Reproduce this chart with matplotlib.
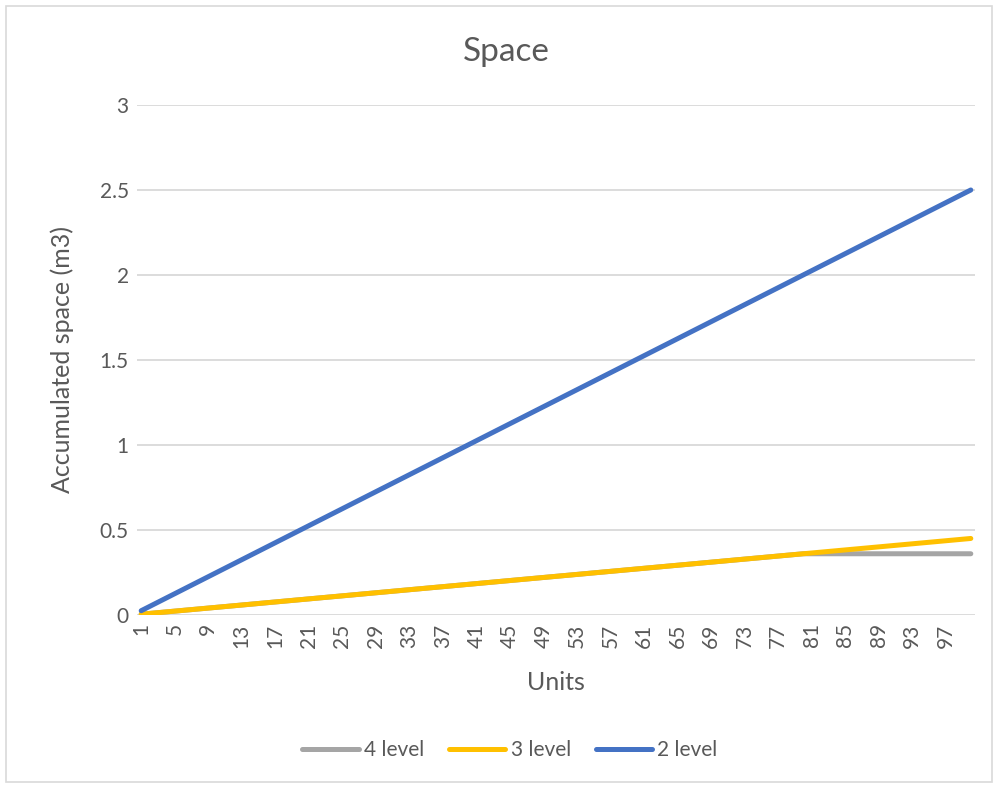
# plot.py
# accumulated space per unit for 2, 3 and 4 level storage
import matplotlib
matplotlib.use('Agg')
import matplotlib.pyplot as plt
from matplotlib.patches import Rectangle

# data
units = list(range(1, 101))

level2 = [0.025, 0.05, 0.075, 0.1, 0.125, 0.15, 0.175, 0.2, 0.225, 0.25,
          0.275, 0.3, 0.325, 0.35, 0.375, 0.4, 0.425, 0.45, 0.475, 0.5,
          0.525, 0.55, 0.575, 0.6, 0.625, 0.65, 0.675, 0.7, 0.725, 0.75,
          0.775, 0.8, 0.825, 0.85, 0.875, 0.9, 0.925, 0.95, 0.975, 1.0,
          1.025, 1.05, 1.075, 1.1, 1.125, 1.15, 1.175, 1.2, 1.225, 1.25,
          1.275, 1.3, 1.325, 1.35, 1.375, 1.4, 1.425, 1.45, 1.475, 1.5,
          1.525, 1.55, 1.575, 1.6, 1.625, 1.65, 1.675, 1.7, 1.725, 1.75,
          1.775, 1.8, 1.825, 1.85, 1.875, 1.9, 1.925, 1.95, 1.975, 2.0,
          2.025, 2.05, 2.075, 2.1, 2.125, 2.15, 2.175, 2.2, 2.225, 2.25,
          2.275, 2.3, 2.325, 2.35, 2.375, 2.4, 2.425, 2.45, 2.475, 2.5]

level3 = [0.0045, 0.009, 0.0135, 0.018, 0.0225, 0.027, 0.0315, 0.036, 0.0405, 0.045,
          0.0495, 0.054, 0.0585, 0.063, 0.0675, 0.072, 0.0765, 0.081, 0.0855, 0.09,
          0.0945, 0.099, 0.1035, 0.108, 0.1125, 0.117, 0.1215, 0.126, 0.1305, 0.135,
          0.1395, 0.144, 0.1485, 0.153, 0.1575, 0.162, 0.1665, 0.171, 0.1755, 0.18,
          0.1845, 0.189, 0.1935, 0.198, 0.2025, 0.207, 0.2115, 0.216, 0.2205, 0.225,
          0.2295, 0.234, 0.2385, 0.243, 0.2475, 0.252, 0.2565, 0.261, 0.2655, 0.27,
          0.2745, 0.279, 0.2835, 0.288, 0.2925, 0.297, 0.3015, 0.306, 0.3105, 0.315,
          0.3195, 0.324, 0.3285, 0.333, 0.3375, 0.342, 0.3465, 0.351, 0.3555, 0.36,
          0.3645, 0.369, 0.3735, 0.378, 0.3825, 0.387, 0.3915, 0.396, 0.4005, 0.405,
          0.4095, 0.414, 0.4185, 0.423, 0.4275, 0.432, 0.4365, 0.441, 0.4455, 0.45]

level4 = [0.0045, 0.009, 0.0135, 0.018, 0.0225, 0.027, 0.0315, 0.036, 0.0405, 0.045,
          0.0495, 0.054, 0.0585, 0.063, 0.0675, 0.072, 0.0765, 0.081, 0.0855, 0.09,
          0.0945, 0.099, 0.1035, 0.108, 0.1125, 0.117, 0.1215, 0.126, 0.1305, 0.135,
          0.1395, 0.144, 0.1485, 0.153, 0.1575, 0.162, 0.1665, 0.171, 0.1755, 0.18,
          0.1845, 0.189, 0.1935, 0.198, 0.2025, 0.207, 0.2115, 0.216, 0.2205, 0.225,
          0.2295, 0.234, 0.2385, 0.243, 0.2475, 0.252, 0.2565, 0.261, 0.2655, 0.27,
          0.2745, 0.279, 0.2835, 0.288, 0.2925, 0.297, 0.3015, 0.306, 0.3105, 0.315,
          0.3195, 0.324, 0.3285, 0.333, 0.3375, 0.342, 0.3465, 0.351, 0.3555, 0.36,
          0.36, 0.36, 0.36, 0.36, 0.36, 0.36, 0.36, 0.36, 0.36, 0.36,
          0.36, 0.36, 0.36, 0.36, 0.36, 0.36, 0.36, 0.36, 0.36, 0.36]

series = [('4 level', level4, '#A5A5A5'),
          ('3 level', level3, '#FFC000'),
          ('2 level', level2, '#4472C4')]

yticks = [0, 0.5, 1, 1.5, 2, 2.5, 3]
ytlabels = ['0', '0.5', '1', '1.5', '2', '2.5', '3']
xticks = units[::4]

# -----
txtcol = '#595959'
gridcol = '#D9D9D9'
plt.rcParams['font.family'] = ['Lato', 'DejaVu Sans']

fig = plt.figure(figsize=(10, 7.87), dpi=100)
ax = fig.add_axes([0.137, 0.2186, 0.838, 0.648])

for name, vals, col in series:
    ax.plot(units, vals, '-', color=col, lw=3.6, solid_capstyle='round',
            label=name)

ax.set_xlim(0.5, 100.5)
ax.set_ylim(0, 3)
ax.set_yticks(yticks)
ax.set_yticklabels(ytlabels)
ax.set_xticks(xticks)
ax.set_xticklabels([str(u) for u in xticks], rotation=90)
ax.tick_params(length=0, colors=txtcol, labelsize=15)
ax.tick_params(axis='y', pad=6)
ax.tick_params(axis='x', pad=6)
ax.grid(axis='y', color=gridcol, lw=1.3)
ax.set_axisbelow(True)
for sp in ax.spines.values():
    sp.set_visible(False)

ax.set_xlabel('Units', color=txtcol, fontsize=18)
ax.set_ylabel('Accumulated space (m3)', color=txtcol, fontsize=18)
ax.xaxis.set_label_coords(0.5, -0.1333)
ax.xaxis.label.set_va('center')
ax.yaxis.set_label_coords(-0.0895, 0.5)
ax.yaxis.label.set_va('center')
fig.text(0.506, 0.934, 'Space', ha='center', va='center', color=txtcol,
         fontsize=24)

fig.legend(loc='center', bbox_to_anchor=(0.51, 0.047), ncol=3, frameon=False,
           handlelength=2.7, handletextpad=0.25, columnspacing=1.2,
           fontsize=15, labelcolor=txtcol)

# chart border
fig.patches.append(Rectangle((0.006, 0.006), 0.986, 0.987, transform=fig.transFigure,
                             fill=False, edgecolor=gridcol, lw=1.2))

fig.savefig('out.png', dpi=100)
